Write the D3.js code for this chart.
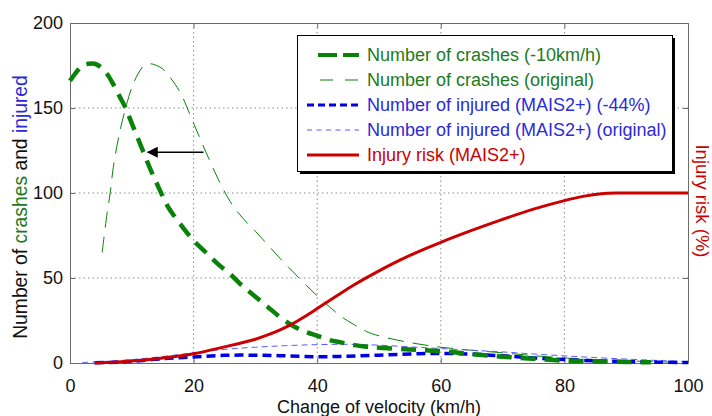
<!DOCTYPE html>
<html>
<head>
<meta charset="utf-8">
<script src="https://cdn.jsdelivr.net/npm/d3@7"></script>
<style>
  body { margin: 0; background: #fff; }
  svg text { font-family: "Liberation Sans", Arial, sans-serif; }
</style>
</head>
<body>
<svg width="712" height="416"></svg>
<script>
// crashes, shifted by -10 km/h (thick green dashed)
var crashShiftX = [0,1,2,3,4,5,6,7,8,9,10,11,12,13,14,15,16,18,20,22,24,26,28,30,32,34,36,38,40,42,44,46,48,50,55,60,65,70,75,80,85,90,94]
var crashShiftY = [166,171,175,176,176,174,170,164,157,150,141,132,123,114,106,98,91,81,72,65,58,52,45,39,33,27,22,18.5,16,13.5,12,10.5,9.6,9,8,7,5.2,3.7,2.5,1.4,1,0.6,0.4]
// crashes, original (thin green dashed)
var crashOrigX = [5.2,6,6.5,7,8,9,10,11,12,13,14,15,16,17,18,20,22,24,26,28,30,32,34,36,38,40,42,44,46,48,50,55,60,65,70,75,80,85,90,95,100]
var crashOrigY = [65,88,100,115,135,150,162,170,175,176,175,173,169,164,158,141,124,108,94.5,85,77.5,69.5,61.5,54,46.5,39.5,33,27,22.5,18.5,16,12,9.3,7.5,6,4.3,3,2,1.3,0.7,0.4]
// injured MAIS2+, original (thin blue dashed)
var injOrigX = [2,5,10,15,20,25,30,35,40,45,50,55,60,65,70,75,80,85,90,95,100]
var injOrigY = [0.3,0.8,2,3.8,6,8,9.3,10.2,10.8,11,10.5,9.5,8.5,7.5,6.5,5.3,4.2,3.2,2.3,1.5,0.8]
// injured MAIS2+, -44% (thick blue dashed)
var injRedX = [4,8,10,15,20,25,30,35,40,45,50,55,60,65,70,75,80,85,90,95,100]
var injRedY = [0.2,0.5,1,2.5,3.6,4.5,4.6,4.2,3.7,4,4.6,5.3,5.6,5.2,4.2,3,2,1.3,0.8,0.5,0.3]
// injury risk MAIS2+ in % (red)
var riskX = [4,6,10,15,20,25,30,32,34,36,38,40,42,44,46,48,50,52,55,60,65,70,75,80,83,86,89,94,100]
var riskY = [0,0.3,1.2,3,5.5,9.5,14,16.5,19.5,23,27.3,32,36.8,41.5,46,50.2,54.2,58,63.3,71,78,84.5,90.5,95.5,98,99.6,100,100,100]

var xTicks = [0,20,40,60,80,100]
var yTicks = [0,50,100,150,200]
var legendLabels = ["Number of crashes (-10km/h)", "Number of crashes (original)",
    "Number of injured (MAIS2+) (-44%)", "Number of injured (MAIS2+) (original)", "Injury risk (MAIS2+)"]

var green = "#0a820a", greenText = "#1d7a1d", blue = "#0000e6", blueText = "#2a2ad8", red = "#cc0000"

var svg = d3.select("svg")
var pLeft = 70, pRight = 688, pTop = 23, pBottom = 363

var x = d3.scaleLinear().domain([0,100]).range([pLeft,pRight])
var y = d3.scaleLinear().domain([0,200]).range([pBottom,pTop])

// grid
var grid = svg.append("g")
grid.selectAll(".gx").data([20,40,60,80]).enter().append("line")
    .attr("x1", d => x(d)).attr("x2", d => x(d)).attr("y1", pTop).attr("y2", pBottom)
    .attr("stroke", "#8a8a8a").attr("stroke-dasharray", "1.5,3")
grid.selectAll(".gy").data([50,100,150]).enter().append("line")
    .attr("y1", d => y(d)).attr("y2", d => y(d)).attr("x1", pLeft).attr("x2", pRight)
    .attr("stroke", "#8a8a8a").attr("stroke-dasharray", "1.5,3")

// box + axes (ticks inward, matlab style)
function styleAxis(g){
    g.select(".domain").attr("stroke", "#6b6b6b")
    g.selectAll(".tick line").attr("stroke", "#6b6b6b")
    g.selectAll("text").attr("fill", "#111").style("font-size", "18px")
        .style("font-family", '"Liberation Sans", Arial, sans-serif')
}
svg.append("g").attr("transform", "translate(0," + pBottom + ")")
    .call(d3.axisBottom(x).tickValues(xTicks).tickSizeInner(-5).tickSizeOuter(0).tickPadding(16))
    .call(styleAxis)
svg.append("g").attr("transform", "translate(0," + pTop + ")")
    .call(d3.axisTop(x).tickValues(xTicks).tickSizeInner(-5).tickSizeOuter(0).tickFormat(""))
    .call(styleAxis)
svg.append("g").attr("transform", "translate(" + pLeft + ",0)")
    .call(d3.axisLeft(y).tickValues(yTicks).tickSizeInner(-5).tickSizeOuter(0).tickPadding(7))
    .call(styleAxis)
svg.append("g").attr("transform", "translate(" + pRight + ",0)")
    .call(d3.axisRight(y).tickValues(yTicks).tickSizeInner(-5).tickSizeOuter(0).tickFormat(""))
    .call(styleAxis)

// curves
function drawLine(xs, ys, color, width, dash){
    var pts = xs.map(function(d,i){ return [d, ys[i]] })
    var line = d3.line().x(d => x(d[0])).y(d => y(d[1])).curve(d3.curveCatmullRom)
    svg.append("path").datum(pts).attr("d", line)
        .attr("fill", "none").attr("stroke", color).attr("stroke-width", width)
        .attr("stroke-dasharray", dash)
}
drawLine(crashOrigX, crashOrigY, green, 1, "16,9")
drawLine(injOrigX, injOrigY, "#5a5aff", 1, "6,4")
drawLine(injRedX, injRedY, blue, 3.5, "9,5")
drawLine(crashShiftX, crashShiftY, green, 4.5, "15,9")
drawLine(riskX, riskY, red, 3, null)

// arrow (-10 km/h shift)
svg.append("defs").append("marker").attr("id", "ah")
    .attr("viewBox", "0 0 10 10").attr("refX", 9).attr("refY", 5)
    .attr("markerWidth", 15).attr("markerHeight", 11).attr("markerUnits", "userSpaceOnUse")
    .attr("orient", "auto")
    .append("path").attr("d", "M0,0 L10,5 L0,10 Z").attr("fill", "#000")
svg.append("line").attr("x1", x(21.6)).attr("x2", x(12.6)).attr("y1", y(124)).attr("y2", y(124))
    .attr("stroke", "#000").attr("stroke-width", 1.6).attr("marker-end", "url(#ah)")

// legend
var lg = svg.append("g")
lg.append("rect").attr("x", 300).attr("y", 38).attr("width", 375).attr("height", 136).attr("fill", "#000")
lg.append("rect").attr("x", 297.5).attr("y", 35.5).attr("width", 375).attr("height", 136)
    .attr("fill", "#fff").attr("stroke", "#000")
var legStyles = [
    {c: green, w: 4, d: "19,6", x1: 318, t: greenText},
    {c: green, w: 1, d: "13,12", x1: 320, t: greenText},
    {c: blue, w: 3, d: "7,4", x1: 307, t: blueText},
    {c: "#5a5aff", w: 1, d: "5,4.5", x1: 307, t: blueText},
    {c: red, w: 3, d: null, x1: 307, t: red}
]
legendLabels.forEach(function(lab, i){
    var yy = 55 + i * 25
    var s = legStyles[i]
    lg.append("line").attr("x1", s.x1).attr("x2", 359).attr("y1", yy).attr("y2", yy)
        .attr("stroke", s.c).attr("stroke-width", s.w).attr("stroke-dasharray", s.d)
    lg.append("text").attr("x", 367).attr("y", yy).attr("dy", "0.35em")
        .attr("fill", s.t).style("font-size", "18px").text(lab)
})

// axis titles
svg.append("text").attr("x", (pLeft + pRight) / 2).attr("y", 413).attr("text-anchor", "middle")
    .attr("fill", "#111").style("font-size", "18px").text("Change of velocity (km/h)")
var yl = svg.append("text").attr("transform", "translate(27,207) rotate(-90)")
    .attr("text-anchor", "middle").style("font-size", "19.3px").attr("fill", "#111")
yl.append("tspan").text("Number of ")
yl.append("tspan").attr("fill", greenText).text("crashes")
yl.append("tspan").text(" and ")
yl.append("tspan").attr("fill", blueText).text("injured")
svg.append("text").attr("transform", "translate(696,201) rotate(90)")
    .attr("text-anchor", "middle").attr("fill", red).style("font-size", "18.5px").text("Injury risk (%)")
</script>
</body>
</html>
